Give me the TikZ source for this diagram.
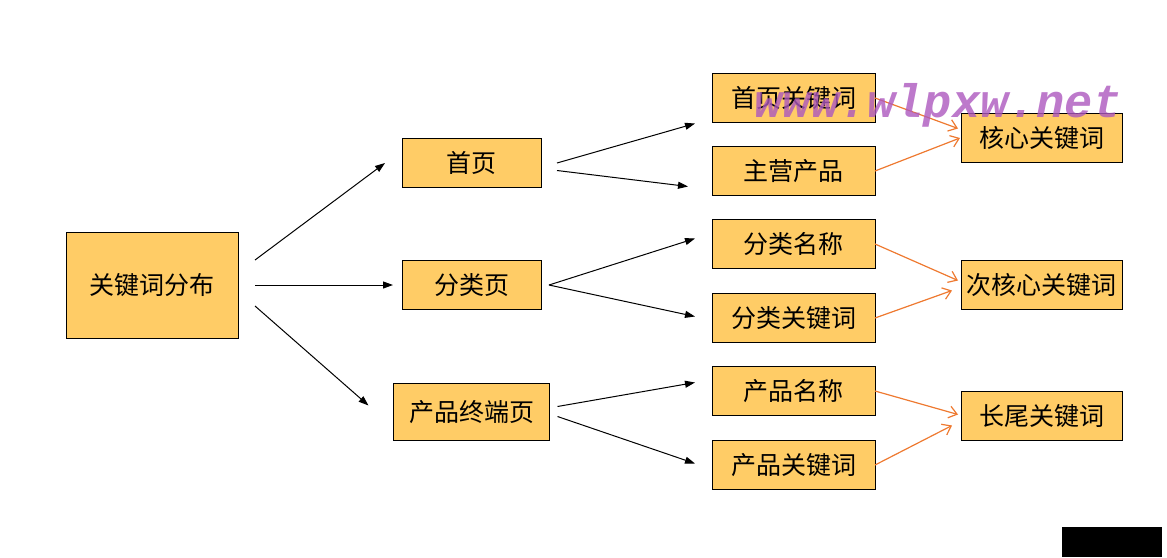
\documentclass[tikz,border=0pt]{standalone}
\usepackage{fontspec}
\setmainfont{Noto Sans CJK SC}
\setmonofont{Liberation Mono}
\usepackage{tikz}
\usetikzlibrary{arrows.meta,positioning}
\definecolor{boxfill}{RGB}{255,204,102}
\definecolor{linkorange}{RGB}{238,121,48}
\definecolor{markpurple}{RGB}{172,88,190}
\tikzset{
  pagebox/.style={draw, line width=1pt, fill=boxfill, inner sep=0pt, outer sep=0pt, font=\fontsize{25}{30}\selectfont},
  distbox/.style={pagebox, minimum width=172pt, minimum height=106pt},
  levelbox/.style={pagebox, minimum width=139pt, minimum height=49pt},
  wordbox/.style={pagebox, minimum width=163pt, minimum height=49pt},
  rankbox/.style={pagebox, minimum width=161pt, minimum height=49pt},
  arrow/.style={-{Triangle[length=10pt,width=7pt]}, line width=1pt},
  link/.style={-{Straight Barb[length=8pt,width=12pt]}, line width=1.2pt, draw=linkorange},
}

\begin{document}
\begin{tikzpicture}[x=1pt, y=-1pt]
\useasboundingbox (0,0) rectangle (1167,557);
\node[distbox] (dist) at (152,285) {关键词分布};
\node[levelbox, right=164pt of dist] (cat) {分类页};
\node[levelbox, above=73pt of cat] (home) {首页};
\node[levelbox, minimum width=156pt, minimum height=57pt, below=74pt of cat] (prod) {产品终端页};
\node[wordbox, right=171pt of cat, yshift=41pt] (catname) {分类名称};
\node[wordbox, above=24pt of catname] (mainprod) {主营产品};
\node[wordbox, above=24pt of mainprod] (homekw) {首页关键词};
\node[wordbox, below=25pt of catname] (catkw) {分类关键词};
\node[wordbox, below=24pt of catkw] (prodname) {产品名称};
\node[wordbox, below=25pt of prodname] (prodkw) {产品关键词};
\node[rankbox, right=86pt of homekw, yshift=-40pt] (core) {核心关键词};
\node[rankbox, right=86pt of catname, yshift=-41pt] (subcore) {次核心关键词};
\node[rankbox, right=86pt of prodname, yshift=-25pt] (longtail) {长尾关键词};
% first level
\draw[arrow] ([shift={(17pt,25pt)}]dist.east) -- ([xshift=-17pt]home.west);
\draw[arrow] ([xshift=17pt]dist.east) -- ([xshift=-9pt]cat.west);
\draw[arrow] ([shift={(17pt,-21pt)}]dist.east) -- ([shift={(-25pt,6.5pt)}]prod.west);
% second level
\draw[arrow] ([xshift=16pt]home.east) -- ([shift={(-17pt,-25.5pt)}]homekw.west);
\draw[arrow] ([shift={(16pt,-7.5pt)}]home.east) -- ([shift={(-24pt,-15.5pt)}]mainprod.west);
\draw[arrow] ([xshift=8pt]cat.east) -- ([shift={(-17pt,5.5pt)}]catname.west);
\draw[arrow] ([xshift=8pt]cat.east) -- ([shift={(-17pt,1.5pt)}]catkw.west);
\draw[arrow] ([shift={(8pt,5.5pt)}]prod.east) -- ([shift={(-17pt,8.5pt)}]prodname.west);
\draw[arrow] ([shift={(8pt,-4.5pt)}]prod.east) -- ([shift={(-17pt,1.5pt)}]prodkw.west);
% keyword ranks
\draw[link] (homekw.east) -- ([shift={(-3pt,9.5pt)}]core.west);
\draw[link] (mainprod.east) -- ([xshift=-1pt]core.west);
\draw[link] (catname.east) -- ([shift={(-3pt,4.5pt)}]subcore.west);
\draw[link] (catkw.east) -- ([shift={(-9pt,-5.5pt)}]subcore.west);
\draw[link] (prodname.east) -- ([shift={(-3pt,1.5pt)}]longtail.west);
\draw[link] (prodkw.east) -- ([shift={(-9pt,-9.5pt)}]longtail.west);
\node[anchor=base, font=\ttfamily\bfseries\itshape\fontsize{47}{50}\selectfont, text=markpurple, opacity=0.8] (mark) at (938,117) {www.wlpxw.net};
\fill (1062,527) rectangle (1162,557);
\end{tikzpicture}
\end{document}
